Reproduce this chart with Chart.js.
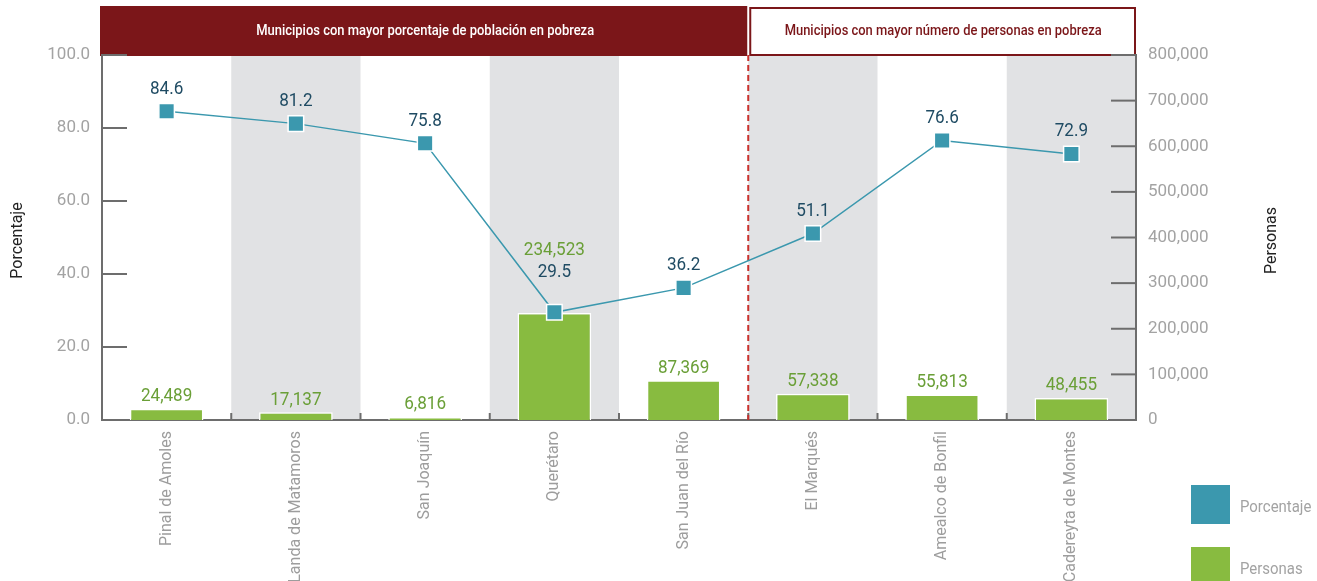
<!DOCTYPE html>
<html>
<head>
<meta charset="utf-8">
<script src="https://cdn.jsdelivr.net/npm/chart.js@4.4.1/dist/chart.umd.min.js"></script>
<style>
  html, body { margin: 0; padding: 0; background: #fff; }
  canvas { display: block; }
</style>
</head>
<body>
<canvas id="myChart" width="1317" height="581"></canvas>
<script>
const municipios = [
  "Pinal de Amoles", "Landa de Matamoros", "San Joaquín", "Querétaro",
  "San Juan del Río", "El Marqués", "Amealco de Bonfil", "Cadereyta de Montes"
];
const porcentaje = [84.6, 81.2, 75.8, 29.5, 36.2, 51.1, 76.6, 72.9];
const personas = [24489, 17137, 6816, 234523, 87369, 57338, 55813, 48455];
const grupoPorcentaje = "Municipios con mayor porcentaje de población en pobreza";
const grupoPersonas = "Municipios con mayor número de personas en pobreza";
const primerGrupoTamano = 5;

const rojo = "#7b1619";
const azul = "#3b98ae";
const verde = "#88bb40";
const gris = "#a3a3a3";

Chart.defaults.font.family = "Roboto, sans-serif";

// texto comprimido horizontalmente (fuente condensada)
function textoAngosto(ctx, txt, x, y, escala) {
  ctx.save();
  ctx.translate(x, y);
  ctx.scale(escala, 1);
  ctx.fillText(txt, 0, 0);
  ctx.restore();
}

const decoracion = {
  id: "decoracion",
  beforeDraw(chart) {
    const { ctx, chartArea: a, scales: { x } } = chart;
    const paso = x.getPixelForValue(1) - x.getPixelForValue(0);
    ctx.save();
    // franjas grises
    ctx.fillStyle = "#e1e2e4";
    municipios.forEach((m, i) => {
      if (i % 2 === 1) {
        const cx = x.getPixelForValue(i);
        ctx.fillRect(cx - paso / 2, a.top, paso, a.bottom - a.top);
      }
    });
    // encabezados
    const corte = x.getPixelForValue(primerGrupoTamano) - paso / 2;
    ctx.fillStyle = rojo;
    ctx.fillRect(a.left - 2, 6, corte - a.left + 1, a.top - 5);
    ctx.strokeStyle = rojo;
    ctx.lineWidth = 2;
    ctx.strokeRect(corte + 2, 8, a.right - corte - 3, a.top - 8);
    ctx.font = "500 14.5px Roboto, sans-serif";
    ctx.textAlign = "center";
    ctx.textBaseline = "middle";
    ctx.fillStyle = "#fff";
    textoAngosto(ctx, grupoPorcentaje, (a.left + corte) / 2, 31,
      338 / ctx.measureText(grupoPorcentaje).width);
    ctx.fillStyle = rojo;
    textoAngosto(ctx, grupoPersonas, (corte + a.right) / 2 + 1, 31,
      317 / ctx.measureText(grupoPersonas).width);
    ctx.restore();
  },
  beforeDatasetsDraw(chart) {
    const { ctx, chartArea: a, scales: { x, y, y1 } } = chart;
    const paso = x.getPixelForValue(1) - x.getPixelForValue(0);
    const corte = x.getPixelForValue(primerGrupoTamano) - paso / 2;
    ctx.save();
    // marcas internas de los ejes
    ctx.strokeStyle = "#6d6d6d";
    ctx.lineWidth = 2;
    y.ticks.forEach((t) => {
      if (t.value === 0) return;
      const py = y.getPixelForValue(t.value);
      ctx.beginPath();
      ctx.moveTo(a.left, py);
      ctx.lineTo(a.left + 25, py);
      ctx.stroke();
    });
    y1.ticks.forEach((t) => {
      if (t.value === 0) return;
      const py = y1.getPixelForValue(t.value);
      ctx.beginPath();
      ctx.moveTo(a.right, py);
      ctx.lineTo(a.right - 25, py);
      ctx.stroke();
    });
    for (let i = 1; i < municipios.length; i++) {
      const px = x.getPixelForValue(i) - paso / 2;
      ctx.beginPath();
      ctx.moveTo(px, a.bottom);
      ctx.lineTo(px, a.bottom - 7);
      ctx.stroke();
    }
    // linea punteada divisoria
    ctx.strokeStyle = "#c9302c";
    ctx.lineWidth = 2;
    ctx.setLineDash([6, 4]);
    ctx.beginPath();
    ctx.moveTo(corte, a.top);
    ctx.lineTo(corte, a.bottom);
    ctx.stroke();
    ctx.restore();
  },
  afterDatasetsDraw(chart) {
    const { ctx } = chart;
    const barras = chart.getDatasetMeta(0).data;
    const puntos = chart.getDatasetMeta(1).data;
    ctx.save();
    ctx.font = "18px Roboto, sans-serif";
    ctx.textAlign = "center";
    ctx.textBaseline = "middle";
    municipios.forEach((m, i) => {
      const b = barras[i];
      const p = puntos[i];
      let yBarra = b.y - 12;
      let yPunto = p.y - 22;
      if (Math.abs(yBarra - p.y) < 30) {
        yPunto = p.y - 40;
        yBarra = p.y - 62;
      }
      ctx.fillStyle = "#6a9f37";
      textoAngosto(ctx, personas[i].toLocaleString("en-US"), b.x, yBarra, 0.95);
      ctx.fillStyle = "#1f4b63";
      textoAngosto(ctx, porcentaje[i].toFixed(1), p.x, yPunto, 0.95);
    });
    ctx.restore();
  },
  afterDraw(chart) {
    const { ctx, chartArea: a } = chart;
    const midY = (a.top + a.bottom) / 2 + 3;
    ctx.save();
    ctx.font = "16px Roboto, sans-serif";
    ctx.fillStyle = "#222";
    ctx.textAlign = "center";
    ctx.textBaseline = "middle";
    [["Porcentaje", 18], ["Personas", 1272]].forEach(([txt, px]) => {
      ctx.save();
      ctx.translate(px, midY);
      ctx.rotate(-Math.PI / 2);
      ctx.fillText(txt, 0, 0);
      ctx.restore();
    });
    // leyenda
    ctx.font = "17px Roboto, sans-serif";
    ctx.textAlign = "left";
    const items = [
      [chart.data.datasets[1].label, azul, 485],
      [chart.data.datasets[0].label, verde, 547]
    ];
    items.forEach(([txt, color, py]) => {
      ctx.fillStyle = color;
      ctx.fillRect(1191, py, 39, 39);
      ctx.fillStyle = gris;
      textoAngosto(ctx, txt, 1240, py + 23, 0.88);
    });
    ctx.restore();
  }
};

const ctx = document.getElementById("myChart").getContext("2d");
new Chart(ctx, {
  type: "bar",
  data: {
    labels: municipios,
    datasets: [
      {
        type: "bar",
        label: "Personas",
        data: personas,
        yAxisID: "y1",
        backgroundColor: verde,
        borderColor: "#fff",
        borderWidth: 1.5,
        barPercentage: 0.57,
        categoryPercentage: 1,
        order: 2
      },
      {
        type: "line",
        label: "Porcentaje",
        data: porcentaje,
        yAxisID: "y",
        borderColor: azul,
        borderWidth: 1.5,
        backgroundColor: azul,
        pointStyle: "rect",
        pointRadius: 11,
        pointBorderColor: "#fff",
        pointBorderWidth: 1.5,
        tension: 0,
        order: 1
      }
    ]
  },
  options: {
    responsive: false,
    animation: false,
    layout: { padding: { top: 55, left: 0, right: 0, bottom: 0 } },
    plugins: {
      legend: { display: false },
      tooltip: { enabled: false }
    },
    scales: {
      x: {
        grid: { display: false, drawTicks: false },
        border: { color: "#6d6d6d", width: 2 },
        ticks: {
          color: "#9d9d9d",
          font: { size: 16 },
          minRotation: 90,
          maxRotation: 90,
          padding: 11
        },
        afterFit(scale) { scale.height = 161; }
      },
      y: {
        position: "left",
        min: 0,
        max: 100,
        grid: { display: false, drawTicks: false },
        border: { color: "#6d6d6d", width: 2 },
        ticks: {
          stepSize: 20,
          color: gris,
          font: { size: 17 },
          padding: 12,
          callback: (v) => v.toFixed(1)
        },
        afterFit(scale) { scale.width = 102; }
      },
      y1: {
        position: "right",
        min: 0,
        max: 800000,
        grid: { display: false, drawTicks: false },
        border: { color: "#6d6d6d", width: 2 },
        ticks: {
          stepSize: 100000,
          color: gris,
          font: { size: 17 },
          padding: 12,
          callback: (v) => v.toLocaleString("en-US")
        },
        afterFit(scale) { scale.width = 181; }
      }
    }
  },
  plugins: [decoracion]
});
</script>
</body>
</html>
